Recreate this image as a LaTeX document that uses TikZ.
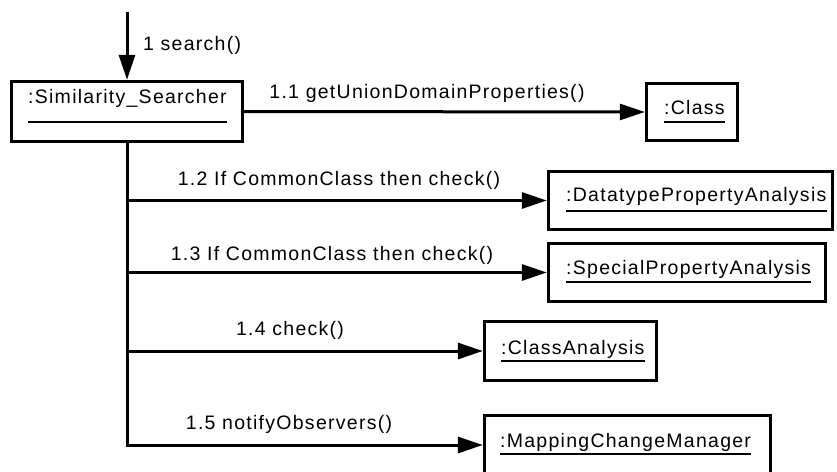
\documentclass[tikz,border=0pt]{standalone}
\usepackage{fontspec}
\setmainfont[LetterSpace=6.5]{Liberation Sans}
\usetikzlibrary{arrows.meta}

\tikzset{
  object/.style={draw, line width=3.4pt, inner sep=0pt, outer sep=1.7pt},
  objname/.style={inner sep=0pt, anchor=base west},
  uline/.style={line width=1.3pt},
  msg/.style={line width=3pt, -{Triangle[length=25pt,width=16pt]}},
  msglabel/.style={inner sep=0pt, anchor=base}
}

\begin{document}
\begin{tikzpicture}[x=1pt, y=-1pt, font=\fontsize{19.5pt}{23pt}\selectfont]
\useasboundingbox (0,0) rectangle (837,471);
\clip (0,0) rectangle (837,471);

% object boxes
\node[object, minimum width=231pt, minimum height=60pt] (SS)  at (127,111.5) {};
\node[object, minimum width=91pt,  minimum height=57pt] (CL)  at (692,112) {};
\node[object, minimum width=284pt, minimum height=58pt] (DPA) at (690.5,200.5) {};
\node[object, minimum width=277pt, minimum height=58pt] (SPA) at (687,272.5) {};
\node[object, minimum width=172pt, minimum height=59pt] (CA)  at (570.5,351) {};
\node[object, minimum width=286pt, minimum height=59pt] (MCM) at (627.5,445) {};

% object names, underlined
\node[objname] (SSt)  at (28,103.5) {:Similarity\_Searcher};
\node[objname] (CLt)  at (664,114)  {:Class};
\node[objname] (DPAt) at (566,201)  {:DatatypePropertyAnalysis};
\node[objname] (SPAt) at (566,274)  {:SpecialPropertyAnalysis};
\node[objname] (CAt)  at (501,354)  {:ClassAnalysis};
\node[objname] (MCMt) at (500,447)  {:MappingChangeManager};
\draw[uline] ([yshift=-18.5pt]SSt.base west)  -- ([yshift=-18.5pt]SSt.base east);
\draw[uline] ([yshift=-8pt]CLt.base west)     -- ([yshift=-8pt]CLt.base east);
\draw[uline] ([yshift=-10pt]DPAt.base west)   -- ([yshift=-10pt]DPAt.base east);
\draw[uline] ([yshift=-8pt]SPAt.base west)    -- ([yshift=-8pt]SPAt.base east);
\draw[uline] ([yshift=-7pt]CAt.base west)     -- ([yshift=-7pt]CAt.base east);
\draw[uline] ([yshift=-7pt]MCMt.base west)    -- ([yshift=-7pt]MCMt.base east);

% incoming call
\coordinate (start) at (127,12);
\draw[msg] (start) -- (SS.north);
\node[inner sep=0pt, anchor=base west] (l1) at (143,50) {1 search()};

% 1.1
\draw[msg] (SS.east) -- (CL.west);
\node[msglabel] (l11) at (427,98) {1.1 getUnionDomainProperties()};

% shared trunk with the branches 1.2 - 1.5
\draw[msg] (SS.south) -- (SS.south |- MCM.west) -- (MCM.west);
\draw[msg] (SS.south |- DPA.west) -- (DPA.west);
\draw[msg] (SS.south |- SPA.west) -- (SPA.west);
\draw[msg] (SS.south |- CA.west) -- (CA.west);

\node[msglabel] (l12) at (339,185) {1.2 If CommonClass then check()};
\node[msglabel] (l13) at (332,260) {1.3 If CommonClass then check()};
\node[msglabel] (l14) at (290,335) {1.4 check()};
\node[msglabel] (l15) at (289,429) {1.5 notifyObservers()};
\end{tikzpicture}
\end{document}
